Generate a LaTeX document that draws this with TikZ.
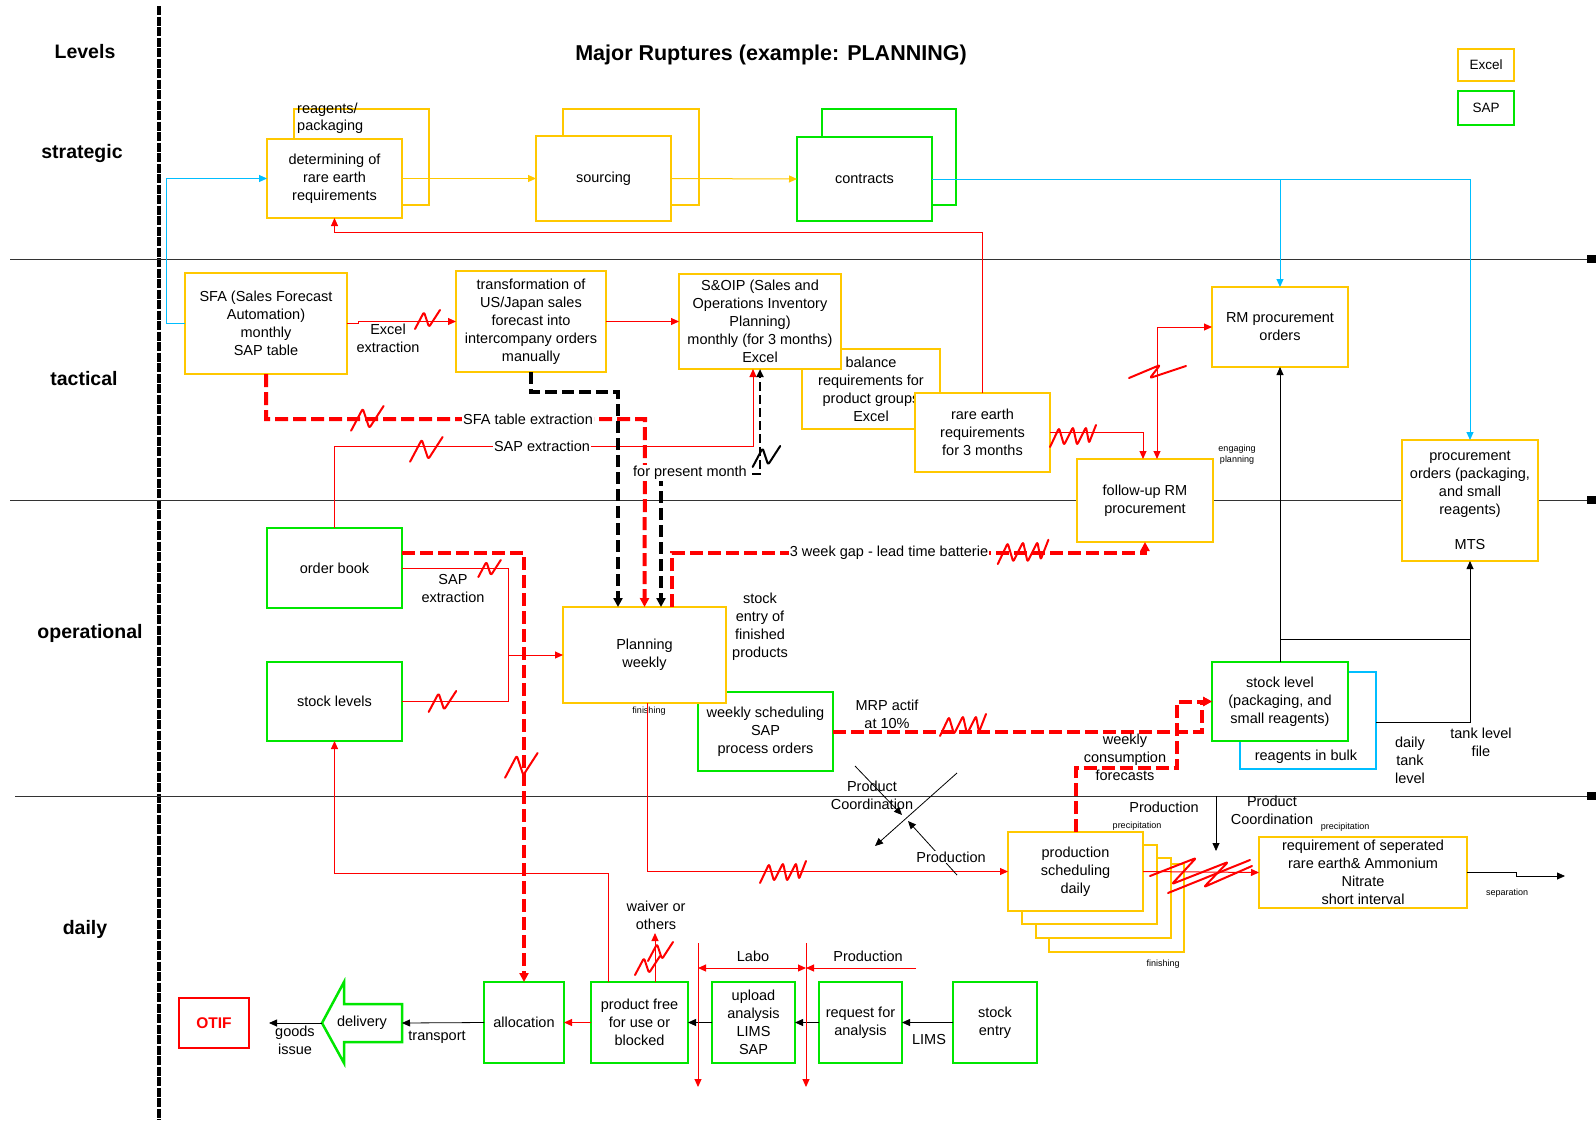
\documentclass[tikz,border=0pt]{standalone}
\usepackage{fontspec}
\setmainfont{Liberation Sans}
\usetikzlibrary{arrows.meta,calc}
\definecolor{cy}{RGB}{255,200,0}
\definecolor{cg}{RGB}{0,230,0}
\definecolor{cb}{RGB}{0,190,255}
\newcommand\fs{\fontsize{14.5}{18}\selectfont}
\newcommand\fsm{\fontsize{9}{11}\selectfont}
\newcommand\fsb{\fontsize{19.5}{23}\selectfont\bfseries}
\newcommand\mybx[7]{\node[#1,minimum width={#4-#2},minimum height={#5-#3}] (#6) at (#2,#3) {#7};}
\tikzset{
 box/.style={draw, line width=2.5pt, fill=white, align=center, inner sep=1pt, outer sep=0pt, font=\fs, anchor=north west},
 yb/.style={box, draw=cy}, gb/.style={box, draw=cg},
 lbl/.style={font=\fs, align=center, inner sep=1pt},
 wlbl/.style={lbl, fill=white},
 sml/.style={font=\fsm, inner sep=0pt, align=center},
 tip/.style={-{Triangle[length=8pt,width=7pt]}},
 rarr/.style={draw=red, line width=1pt, tip},
 rln/.style={draw=red, line width=1pt},
 karr/.style={draw=black, line width=0.8pt, tip},
 yarr/.style={draw=cy, line width=1pt, tip},
 barr/.style={draw=cb, line width=1pt, tip},
 rdash/.style={draw=red, line width=4pt, dash pattern=on 13pt off 5pt, -{Triangle[length=9pt,width=9pt]}},
 kdash/.style={draw=black, line width=4pt, dash pattern=on 12pt off 5pt, -{Triangle[length=9pt,width=9pt]}},
 squig/.style={draw=red, line width=2pt, line cap=round, line join=round, rounded corners=2pt},
 sqn/.pic={\draw[squig] (-13,9) -- (-4,-8) -- (1,7) -- (12,-10);},
 sqk/.pic={\draw[squig,draw=black] (-13,9) -- (-4,-8) -- (1,7) -- (12,-10);},
 sqnn/.pic={\draw[squig] (-22,10) -- (-13,-9) -- (-8,8) -- (1,-10) -- (5,8) -- (14,-10) -- (17,6) -- (24,-12);},
}
\begin{document}
\begin{tikzpicture}[x=1pt,y=-1pt]
\useasboundingbox (0,0) rectangle (1596,1120);
\fill[white] (0,0) rectangle (1596,1120);

% frame
\draw[line width=4pt, dash pattern=on 9pt off 1.5pt] (159,6) -- (159,1120);
\foreach \yy/\xs in {259/10,500/10,796/15} {
  \draw[line width=1pt,black!80] (\xs,\yy) -- (1588,\yy);
  \fill (1587,\yy-4) rectangle (1596,\yy+4);
}

% level labels and title
\node[font=\fsb] (lvl) at (85,52) {Levels};
\node[font=\fsb] (lstr) at (82,153) {strategic};
\node[font=\fsb] (ltac) at (84,379) {tactical};
\node[font=\fsb] (lop) at (90,633) {operational};
\node[font=\fsb] (ldaily) at (85,929) {daily};
\node[font=\fontsize{21.5}{25}\selectfont\bfseries] (title) at (771,55) {Major Ruptures (example: PLANNING)};

% legend
\mybx{yb,font=\fontsize{13.5}{15}\selectfont}{1458}{49}{1514}{81}{lgx}{Excel}
\mybx{gb,font=\fontsize{13.5}{15}\selectfont}{1458}{91}{1514}{125}{lgs}{SAP}

% strategic boxes
\mybx{yb}{294}{109}{429}{205}{reagb}{}
\node[lbl, anchor=north west, align=left, font=\fontsize{14.5}{17}\selectfont] (reagt) at (296,102) {reagents/\\packaging};
\mybx{yb}{267}{139}{402}{218}{det}{determining of\\rare earth\\requirements}
\mybx{yb}{563}{109}{699}{205}{sourb}{}
\mybx{yb}{536}{136}{671}{221}{sour}{sourcing}
\mybx{gb}{822}{109}{956}{205}{conb}{}
\mybx{gb}{797}{137}{932}{221}{con}{contracts}

% tactical boxes
\mybx{yb}{185}{273}{347}{374}{sfa}{SFA (Sales Forecast\\Automation)\\monthly\\SAP table}
\mybx{yb}{456}{271}{606}{372}{trans}{transformation of\\US/Japan sales\\forecast into\\intercompany orders\\manually}
\mybx{yb}{802}{349}{940}{429}{bal}{balance\\requirements for\\product groups\\Excel}
\mybx{yb}{679}{274}{841}{369}{sop}{S\&OIP (Sales and\\Operations Inventory\\Planning)\\monthly (for 3 months)\\Excel}
\mybx{yb}{915}{393}{1050}{472}{rare}{rare earth\\requirements\\for 3 months}
\mybx{yb}{1212}{287}{1348}{367}{rm}{RM procurement\\orders}
\mybx{yb}{1077}{459}{1213}{542}{fu}{follow-up RM\\procurement}
\mybx{yb}{1402}{440}{1538}{561}{mts}{procurement\\orders (packaging,\\and small\\reagents)\\[17pt]MTS}

% operational boxes
\mybx{gb}{267}{528}{402}{608}{ob}{order book}
\mybx{gb}{267}{662}{402}{741}{sl}{stock levels}
\mybx{gb}{698}{692}{833}{771}{ws}{weekly scheduling\\SAP\\process orders}
\mybx{yb}{563}{607}{726}{703}{plan}{Planning\\weekly}
\mybx{box,draw=cb}{1240}{672}{1376}{769}{bulk}{}
\mybx{gb}{1212}{662}{1348}{741}{stl}{stock level\\(packaging, and\\small reagents)}
\node[lbl] (bulkt) at (1306,757) {reagents in bulk};

% daily boxes
\mybx{yb}{1049}{864}{1184}{952}{p4}{}
\mybx{yb}{1036}{858}{1171}{938}{p3}{}
\mybx{yb}{1022}{845}{1157}{924}{p2}{}
\mybx{yb}{1008}{832}{1143}{911}{prod}{production\\scheduling\\daily}
\mybx{yb}{1259}{837}{1467}{908}{req}{requirement of seperated\\rare earth\& Ammonium\\Nitrate\\short interval}
\mybx{box,draw=red,text=red,font=\fontsize{15.5}{18}\selectfont\bfseries}{179}{998}{249}{1048}{otif}{OTIF}
\draw[draw=cg, line width=2.5pt, line join=miter] (322,1023) -- (344,982) -- (344,1004) -- (402,1004) -- (402,1042) -- (344,1042) -- (344,1063) -- cycle;
\node[lbl, minimum width=80, minimum height=38, outer sep=0pt] (deliv) at (362,1023) {delivery};
\mybx{gb}{484}{982}{564}{1063}{alloc}{allocation}
\mybx{gb}{591}{982}{688}{1063}{pf}{product free\\for use or\\blocked}
\mybx{gb}{712}{982}{795}{1063}{up}{upload\\analysis\\LIMS\\SAP}
\mybx{gb}{819}{982}{902}{1063}{rq}{request for\\analysis}
\mybx{gb}{953}{982}{1037}{1063}{se}{stock\\entry}

% ---- strategic connectors
\draw[yarr] (det.east) -- (sour.west);
\draw[yarr] (sour.east) -- (con.west);
\draw[barr] (con.east) -- (con.east -| mts.north) -- (mts.north);
\draw[barr] (con.east -| rm.north) -- (rm.north);
\draw[barr] (sfa.west) -- ++(-19,0) |- (det.west);
\draw[rarr] (rare.north) |- ($(det.south)+(0,14)$) -- (det.south);

% ---- tactical connectors
\draw[rarr] (sfa.east) -- ++(11,0) |- (trans.west);
\node[lbl] (exex) at (388,338) {Excel\\extraction};
\pic at (428,320) {sqn};
\draw[rarr] (trans.east) -- (sop.west);
\draw[rarr] (rare.east) -| ([xshift=-2]fu.north);
\pic at (1072,437) {sqnn};
\draw[rarr,{Triangle[length=8pt,width=7pt]}-{Triangle[length=8pt,width=7pt]}] ([xshift=12]fu.north) |- (rm.west);
\draw[squig] (1129,378) -- (1160,365) -- (1150,378) -- (1186,366);
\node[sml] (engp) at (1237,455) {engaging\\planning};

\draw[rarr] (ob.north) |- (753,446) -- ([xshift=-7]sop.south);
\draw[rdash] (sfa.south) |- (645,419) -- (plan.north);
\draw[kdash] (trans.south) |- (618,392) -- ([xshift=-26.5]plan.north);
\coordinate (pm) at (661,474);
\draw[line width=2pt, dash pattern=on 9pt off 4pt, tip] (pm) -| (sop.south);
\draw[kdash] (pm) -- ([xshift=16.5]plan.north);
\node[wlbl] (sapx) at (542,446) {SAP extraction};
\pic[scale=1.3] at (427,450) {sqn};
\node[wlbl] (sfat) at (528,419) {SFA table extraction};
\pic[scale=1.3] at (368,419) {sqn};
\node[wlbl] (pmt) at (690,473) {for present month};
\pic[scale=1.1] at (767,457) {sqk};

\draw[rdash] ([xshift=27.5]plan.north) |- ($(fu.south)+(0,11)$) -- (fu.south);
\node[wlbl] (gap) at (889,553) {3 week gap - lead time batterie};
\pic[scale=1.1] at (1022,553) {sqnn};

% ---- operational connectors
\coordinate (mj) at (508,655);
\draw[rln] (ob.east) -| (mj);
\draw[rln] (sl.east) -| (mj);
\draw[rarr] (mj) -- (plan.west);
\node[lbl] (sapx2) at (453,588) {SAP\\extraction};
\pic[scale=0.9] at (490,569) {sqn};
\pic[scale=1.1] at (443,702) {sqn};
\draw[rdash] ([yshift=15]ob.east) -| (alloc.north);
\pic[scale=1.3] at (522,766) {sqn};
\node[lbl] (sefp) at (760,627) {stock\\entry of\\finished\\products};
\node[sml] (fin1) at (649,711) {finishing};

\draw[rarr] ([xshift=2.5]plan.south) |- (prod.west);
\pic at (782,873) {sqnn};
\coordinate (pfc) at (608,873);
\draw[rarr] ([xshift=-31.5]pf.north) -- (pfc) -| (sl.south);

\draw[rdash] (ws.east) -- (1202,731.5) |- (stl.west);
\draw[rdash] (prod.north) |- (1177,768) |- (stl.west);
\node[lbl] (mrp) at (887,714) {MRP actif\\at 10\%};
\node[lbl] (wcf) at (1125,757) {weekly\\consumption\\forecasts};
\pic at (962,726) {sqnn};

\draw[karr] (stl.north) -- (rm.south);
\draw[line width=0.8pt] (stl.north |- 0,639) -- (mts.south |- 0,639);
\draw[karr] (bulk.east |- 0,722) -| (mts.south);
\node[lbl] (dtl) at (1410,760) {daily\\tank\\level};
\node[lbl] (tlf) at (1481,742) {tank level\\file};

% ---- daily connectors
\draw[rarr] (prod.east) -- (req.west);
\draw[squig] (1150,876) -- (1196,858) -- (1172,884) -- (1228,862) -- (1204,887) -- (1252,866);
\draw[squig] (1168,893) -- (1250,860);
\coordinate (sepe) at (1565,876);
\draw[karr] (req.east) -- ++(49,0) |- (sepe);
\node[sml] (sept) at (1507,893) {separation};
\node[sml] (fin2) at (1163,964) {finishing};

\coordinate (pdtop) at (1216,796);
\coordinate (pdbot) at (1216,851);
\draw[karr] (pdtop) -- (pdbot);
\node[lbl] (pr2) at (1164,807) {Production};
\node[sml] (prec1) at (1137,826) {precipitation};
\node[lbl] (pc2) at (1272,810) {Product\\Coordination};
\node[sml] (prec2) at (1345,827) {precipitation};

\coordinate (xa1) at (957,773); \coordinate (xa2) at (875,846);
\coordinate (xb1) at (855,766); \coordinate (xb2) at (902,815);
\coordinate (xb3) at (957,875); \coordinate (xb4) at (908,821);
\draw[karr] (xa1) -- (xa2);
\draw[karr] (xb1) -- (xb2);
\draw[karr] (xb3) -- (xb4);
\node[lbl] (pc1) at (872,795) {Product\\Coordination};
\node[wlbl] (prodl) at (951,857) {Production};

\coordinate (gi) at (269,1023);
\draw[karr] (deliv.west) -- (gi);
\node[lbl] (gil) at (295,1040) {goods\\issue};
\draw[karr] (alloc.west) -- (deliv.east);
\node[lbl] (trl) at (437,1037) {transport};
\draw[rarr] (pf.west) -- (alloc.east);
\coordinate (wv) at (655,933);
\draw[rarr] ([xshift=15.5]pf.north) -- (wv);
\node[lbl] (wvl) at (656,915) {waiver or\\others};
\pic at (648,966) {sqn};
\pic at (661,952) {sqn};
\draw[karr] (up.west) -- (pf.east);
\draw[karr] (rq.west) -- (up.east);
\draw[karr] (se.west) -- (rq.east);
\node[lbl] (lims) at (929,1039) {LIMS};

\coordinate (la1) at (698,943); \coordinate (la2) at (698,1087);
\coordinate (lb1) at (806,943); \coordinate (lb2) at (806,1087);
\draw[rarr] (la1) -- (la2);
\draw[rarr] (lb1) -- (lb2);
\coordinate (dl) at (698,968); \coordinate (dm) at (806,968); \coordinate (dr) at (916,968);
\draw[rarr,{Triangle[length=8pt,width=7pt]}-{Triangle[length=8pt,width=7pt]}] (dl) -- (dm);
\draw[rarr] (dr) -- (dm);
\node[lbl] (labo) at (753,956) {Labo};
\node[lbl] (prodd) at (868,956) {Production};
\end{tikzpicture}
\end{document}
